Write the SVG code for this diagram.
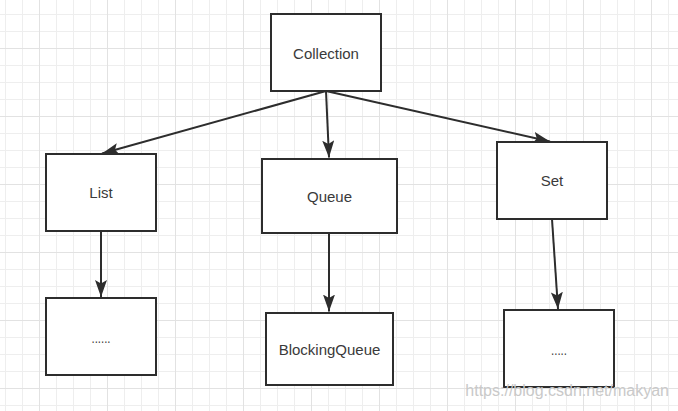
<svg xmlns="http://www.w3.org/2000/svg" width="678" height="411" viewBox="0 0 678 411">
  <defs>
    <pattern id="grid" x="39" y="48" width="68" height="68" patternUnits="userSpaceOnUse">
      <path d="M17.5,0 V68 M34.5,0 V68 M51.5,0 V68 M0,17.5 H68 M0,34.5 H68 M0,51.5 H68" stroke="#eeeeee" stroke-width="1" fill="none"/>
      <path d="M0.5,0 V68 M0,0.5 H68" stroke="#e2e2e2" stroke-width="1" fill="none"/>
    </pattern>
    <marker id="arrow" markerUnits="userSpaceOnUse" markerWidth="18" markerHeight="13" refX="17" refY="6" orient="auto">
      <path d="M0,0 L17,6 L0,12 L3.5,6 Z" fill="#2d2d2d"/>
    </marker>
    <style>
      .box { fill: #ffffff; stroke: #2d2d2d; stroke-width: 2; }
      .label { font-family: "Liberation Sans", Arial, sans-serif; font-size: 15px; fill: #3a3a3a; text-anchor: middle; }
      .edge { stroke: #2d2d2d; stroke-width: 2; fill: none; marker-end: url(#arrow); }
      .wm { font-family: "Liberation Sans", Arial, sans-serif; font-size: 16px; fill: #c9c9c9; text-anchor: end; }
    </style>
  </defs>

  <rect x="0" y="0" width="678" height="411" fill="#ffffff"/>
  <rect x="0" y="0" width="678" height="411" fill="url(#grid)"/>

  <g id="connectors">
    <line class="edge" x1="326" y1="91" x2="102" y2="153.5"/>
    <line class="edge" x1="326" y1="91" x2="329" y2="157.5"/>
    <line class="edge" x1="326" y1="91" x2="550" y2="141.5"/>
    <line class="edge" x1="101" y1="231" x2="101" y2="297"/>
    <line class="edge" x1="329" y1="233" x2="329" y2="311.5"/>
    <line class="edge" x1="552" y1="219" x2="558" y2="309"/>
  </g>

  <g id="collection">
    <rect class="box" x="271" y="14" width="110" height="77"/>
    <text class="label" x="326" y="59">Collection</text>
  </g>
  <g id="list">
    <rect class="box" x="46" y="154" width="110" height="77"/>
    <text class="label" x="101" y="198">List</text>
  </g>
  <g id="queue">
    <rect class="box" x="262" y="159" width="135" height="74"/>
    <text class="label" x="329.5" y="202">Queue</text>
  </g>
  <g id="set">
    <rect class="box" x="497" y="142" width="110" height="77"/>
    <text class="label" x="552" y="185.5">Set</text>
  </g>
  <g id="list-child">
    <rect class="box" x="46" y="298" width="110" height="77"/>
    <text class="label" x="101" y="342.5" textLength="19" lengthAdjust="spacingAndGlyphs">......</text>
  </g>
  <g id="blockingqueue">
    <rect class="box" x="266" y="313" width="127" height="72"/>
    <text class="label" x="329.5" y="355">BlockingQueue</text>
  </g>
  <g id="set-child">
    <rect class="box" x="504" y="310" width="110" height="77"/>
    <text class="label" x="559" y="355" textLength="16" lengthAdjust="spacingAndGlyphs">.....</text>
  </g>

  <text class="wm" x="669" y="396">https://blog.csdn.net/makyan</text>
</svg>
